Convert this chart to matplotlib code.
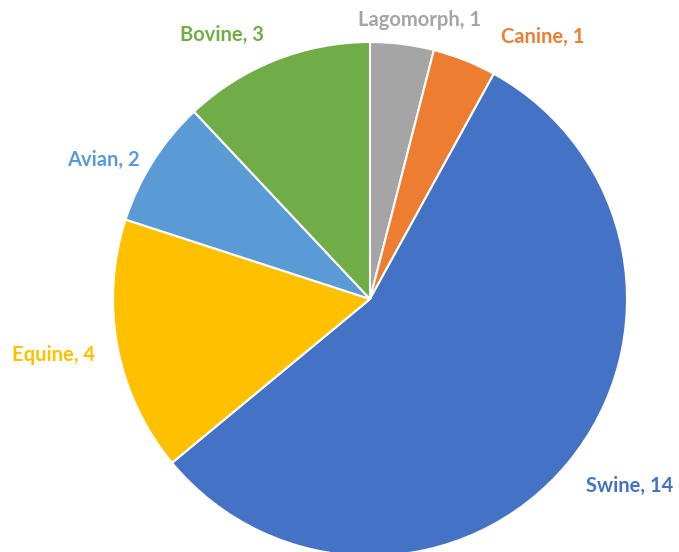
import matplotlib
matplotlib.use("Agg")
import matplotlib.pyplot as plt
import numpy as np

categories = ["Lagomorph", "Canine", "Swine", "Equine", "Avian", "Bovine"]
values = [1, 1, 14, 4, 2, 3]
colors = ["#A5A5A5", "#ED7D31", "#4472C4", "#FFC000", "#5B9BD5", "#70AD47"]

W, H = 679, 552
cx, cy, R = 370, 299, 257

fig = plt.figure(figsize=(W / 100, H / 100), dpi=100)
ax = fig.add_axes([0, 0, 1, 1])

wedges, _ = ax.pie(values, colors=colors, startangle=90, counterclock=False,
                   radius=1.0, center=(0, 0),
                   wedgeprops=dict(edgecolor="white", linewidth=1.5))
ax.set_aspect("auto")
ax.set_xlim(-cx / R, (W - cx) / R)
ax.set_ylim(-(H - cy) / R, cy / R)
ax.axis("off")

# label positions in pixel space (top-left origin)
label_px = [(420, 20), (543, 37), (630, 486), (54, 355), (103, 160), (222, 35)]
for cat, val, col, (px, py) in zip(categories, values, colors, label_px):
    ax.text((px - cx) / R, (cy - py) / R, f"{cat}, {val}", color=col,
            ha="center", va="center", fontsize=14.5, fontweight="bold",
            family=["Lato", "DejaVu Sans"])

fig.savefig("out.png", dpi=100)
